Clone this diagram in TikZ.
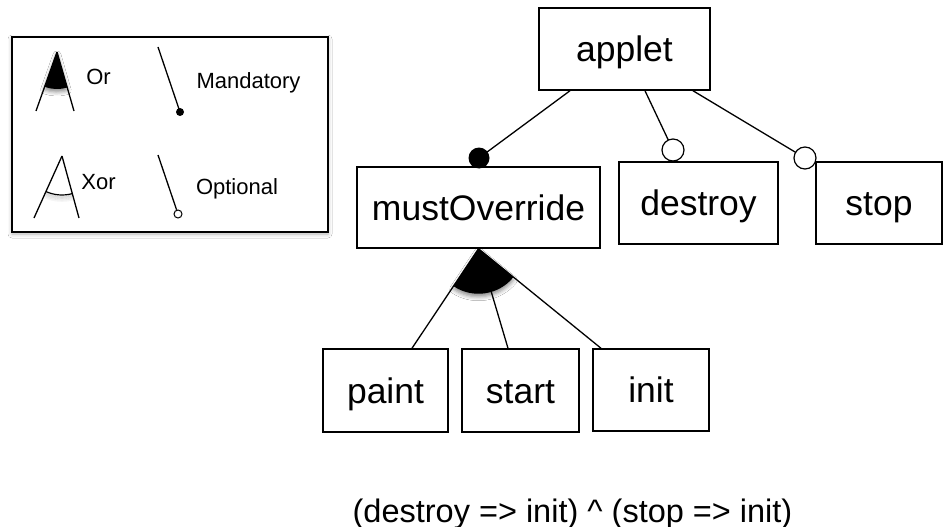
\documentclass[tikz,border=0pt]{standalone}
\usepackage{fontspec}
\setmainfont{Liberation Sans}
\usetikzlibrary{calc,shadows.blur}
\tikzset{
  featbox/.style={draw, line width=1.5pt, fill=white, inner sep=0pt, text height=25pt, text depth=0pt, font=\fontsize{35.5}{40}\selectfont},
  conn/.style={line width=1.3pt},
  mandot/.style={circle, fill=black, inner sep=0pt, minimum size=21pt},
  optdot/.style={circle, draw, line width=1.2pt, fill=white, inner sep=0pt, minimum size=22pt},
  legtext/.style={inner sep=0pt, font=\fontsize{22}{26}\selectfont},
  softshadow/.style={blur shadow={shadow xshift=0pt, shadow yshift=-3pt, shadow blur radius=4pt, shadow opacity=45}},
}
\begin{document}
\begin{tikzpicture}[x=1pt,y=1pt]
\useasboundingbox[fill=white] (0,0) rectangle (943,-527);

% ---------------- legend ----------------
\draw[line width=1.1pt, fill=white, blur shadow={shadow xshift=0pt, shadow yshift=-2pt, shadow blur radius=4pt, shadow opacity=30}] (12,-37) rectangle (328,-232);
% Or
\coordinate (orapex) at (57,-52);
\fill[black, softshadow] (orapex) -- ++(250.4:37) arc[start angle=250.4, end angle=286.1, radius=37] -- cycle;
\draw[conn] (orapex) -- (36,-111);
\draw[conn] (orapex) -- (74,-111);
\node[legtext] (ortext) at (98.5,-77) {Or};
% Xor
\coordinate (xorapex) at (62,-156);
\foreach \r/\o in {40.5/0.12,42/0.10,43.5/0.07,45/0.04}
  \draw[black, line width=1.6pt, opacity=\o] ($(xorapex)+(247:\r)$) arc[start angle=247, end angle=284, radius=\r];
\draw[line width=1.2pt] ($(xorapex)+(245.7:39)$) arc[start angle=245.7, end angle=285.3, radius=39];
\draw[conn] (xorapex) -- (34,-218);
\draw[conn] (xorapex) -- (79,-218);
\node[legtext] (xortext) at (98.5,-182) {Xor};
% Mandatory
\node[circle, fill=black, inner sep=0pt, minimum size=8pt] (legm) at (180,-112) {};
\draw[conn] (158,-47) -- (legm.center);
\node[legtext] (mandtext) at (248.5,-83) {Mandatory};
% Optional
\coordinate (legotop) at (158,-155);
\node[circle, draw, line width=1pt, fill=white, inner sep=0pt, minimum size=8pt] (lego) at (178,-214) {};
\draw[conn] (legotop) -- (lego);
\node[legtext] (opttext) at (237,-189) {Optional};

% ---------------- feature tree ----------------
\node[featbox, minimum width=171pt, minimum height=82pt] (applet) at (624.5,-49) {applet};
\node[featbox, minimum width=243pt, minimum height=81pt] (must) at (478.5,-207.5) {mustOverride};
\node[featbox, minimum width=159pt, minimum height=82pt] (destroy) at (698.5,-203) {destroy};
\node[featbox, minimum width=126pt, minimum height=82pt] (stop) at (879,-203) {stop};
\node[featbox, minimum width=125pt, minimum height=83pt] (paint) at (385.5,-390.5) {paint};
\node[featbox, minimum width=117pt, minimum height=83pt] (start) at (520.5,-390.5) {start};
\node[featbox, minimum width=116pt, minimum height=82pt] (init) at (651,-390) {init};

% applet children
\coordinate (mdotc) at (479,-158);
\coordinate (dcircc) at (673,-150);
\coordinate (scircc) at (805,-158);
\draw[conn] ([xshift=-54.5pt]applet.south) -- (mdotc);
\draw[conn] ([xshift=20.5pt]applet.south) -- (dcircc);
\draw[conn] ([xshift=68.5pt]applet.south) -- (scircc);
\node[mandot] (mdot) at (mdotc) {};
\node[optdot] (dcirc) at (dcircc) {};
\node[optdot] (scirc) at (scircc) {};

% Or group below mustOverride
\fill[black, softshadow] (must.south) -- ++(236.4:45) arc[start angle=236.4, end angle=320.7, radius=45] -- cycle;
\draw[conn] (must.south) -- ([xshift=26.5pt]paint.north);
\draw[conn] (must.south) -- ([xshift=-12.5pt]start.north);
\draw[conn] (must.south) -- ([xshift=-50pt]init.north);

% constraint
\node[anchor=base, inner sep=0pt, font=\fontsize{32.5}{38}\selectfont] (formula) at (572.5,-522) {(destroy => init) \textasciicircum{} (stop => init)};
\end{tikzpicture}
\end{document}
